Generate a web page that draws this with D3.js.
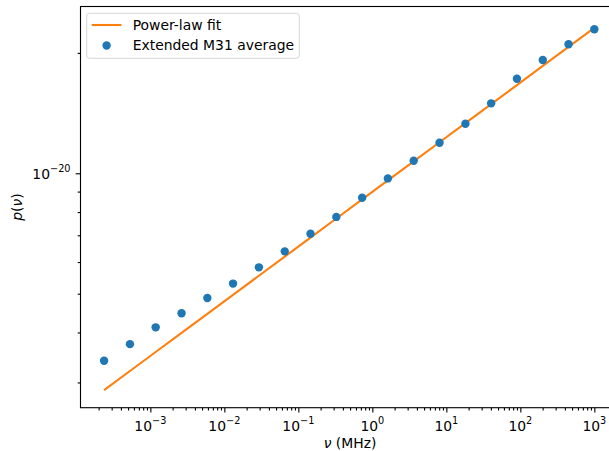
<!DOCTYPE html>
<html><head><meta charset="utf-8">
<script src="https://cdn.jsdelivr.net/npm/d3@7"></script>
<style>
body{margin:0;background:#fff}
svg{display:block;overflow:hidden}
text{font-family:"DejaVu Sans",sans-serif;fill:#000}
</style>
</head><body>
<svg id="chart" width="609" height="451"></svg>
<script>
// ---- data ----
const frequencies = [2.37e-4, 5.30e-4, 1.18e-3, 2.64e-3, 5.89e-3, 1.31e-2, 2.93e-2, 6.55e-2,
  0.146, 0.326, 0.728, 1.62, 3.62, 8.09, 18.1, 40.3, 89.9, 201, 448, 1000];
const m31Average = [3.40e-21, 3.74e-21, 4.12e-21, 4.47e-21, 4.88e-21, 5.30e-21, 5.82e-21, 6.38e-21,
  7.06e-21, 7.78e-21, 8.69e-21, 9.71e-21, 1.075e-20, 1.192e-20, 1.330e-20, 1.496e-20,
  1.723e-20, 1.920e-20, 2.102e-20, 2.291e-20];
const fitAmplitude = 8.985e-21;   // p(1 MHz)
const fitIndex = 0.1367;          // power-law slope
const xTickExponents = [-3, -2, -1, 0, 1, 2, 3];
const yTickExponents = [-20];
const seriesNames = ["Power-law fit", "Extended M31 average"];
const xAxisTitle = "(MHz)";

// ---- layout ----
const fs = 13.9;
const L = 80.5, R = 619.5, T = 6.5, B = 407.7;
const x = d3.scaleLog().domain([Math.pow(10, -3.944), Math.pow(10, 3.34)]).range([L, R]);
const y = d3.scaleLog().domain([Math.pow(10, -20.586), Math.pow(10, -19.583)]).range([B, T]);

const svg = d3.select("#chart");
const blue = "#1f77b4", orange = "#ff7f0e";

// fit line
const fitData = frequencies.map(f => [f, fitAmplitude * Math.pow(f, fitIndex)]);
svg.append("path")
  .datum(fitData)
  .attr("fill", "none").attr("stroke", orange).attr("stroke-width", 2.08)
  .attr("d", d3.line().x(d => x(d[0])).y(d => y(d[1])));

// points
svg.append("g").selectAll("circle")
  .data(frequencies.map((f, i) => [f, m31Average[i]]))
  .join("circle")
  .attr("cx", d => x(d[0])).attr("cy", d => y(d[1]))
  .attr("r", 4.2).attr("fill", blue);

// minor tick values
function minors(scale) {
  const [a, b] = scale.domain();
  const out = [];
  for (let e = Math.floor(Math.log10(a)) - 1; e <= Math.ceil(Math.log10(b)); e++) {
    for (let k = 2; k <= 9; k++) {
      const v = k * Math.pow(10, e);
      if (v >= a && v <= b) out.push(v);
    }
  }
  return out;
}

const tickW = 1.11;
// x axis
const gx = svg.append("g").attr("transform", `translate(0,${B})`);
gx.call(d3.axisBottom(x).tickValues(xTickExponents.map(e => Math.pow(10, e))).tickSize(4.86).tickFormat(""));
const gxm = svg.append("g").attr("transform", `translate(0,${B})`);
gxm.call(d3.axisBottom(x).tickValues(minors(x)).tickSize(2.78).tickFormat(""));
// y axis
const gy = svg.append("g").attr("transform", `translate(${L},0)`);
gy.call(d3.axisLeft(y).tickValues(yTickExponents.map(e => Math.pow(10, e))).tickSize(4.86).tickFormat(""));
const gym = svg.append("g").attr("transform", `translate(${L},0)`);
gym.call(d3.axisLeft(y).tickValues(minors(y)).tickSize(2.78).tickFormat(""));
[gx, gxm, gy, gym].forEach(g => {
  g.select(".domain").remove();
  g.selectAll("line").attr("stroke", "#000").attr("stroke-width", tickW);
});

// frame
svg.append("rect").attr("x", L).attr("y", T).attr("width", R - L).attr("height", B - T)
  .attr("fill", "none").attr("stroke", "#000").attr("stroke-width", tickW);

// x tick labels
const xl = svg.append("g").selectAll("text").data(xTickExponents).join("text")
  .attr("x", e => x(Math.pow(10, e))).attr("y", 430.5)
  .attr("text-anchor", "middle").style("font-size", fs + "px");
xl.append("tspan").text("10");
xl.append("tspan").attr("dy", -6.2).style("font-size", (fs * 0.7) + "px")
  .text(e => (e < 0 ? "\u2212" : "") + Math.abs(e));

// y tick labels
const yl = svg.append("g").selectAll("text").data(yTickExponents).join("text")
  .attr("x", 70.5).attr("y", e => y(Math.pow(10, e)) + 5.2)
  .attr("text-anchor", "end").style("font-size", fs + "px");
yl.append("tspan").text("10");
yl.append("tspan").attr("dy", -6.2).style("font-size", (fs * 0.7) + "px")
  .text(e => (e < 0 ? "\u2212" : "") + Math.abs(e));

// axis titles
const xt = svg.append("text").attr("x", (L + R) / 2).attr("y", 447.5)
  .attr("text-anchor", "middle").style("font-size", fs + "px");
xt.append("tspan").style("font-style", "italic").text("\u03bd");
xt.append("tspan").text(" " + xAxisTitle);

const yt = svg.append("text").attr("transform", `translate(21.5,${(T + B) / 2}) rotate(-90)`)
  .attr("text-anchor", "middle").style("font-size", fs + "px");
yt.append("tspan").style("font-style", "italic").text("p");
yt.append("tspan").text("(");
yt.append("tspan").style("font-style", "italic").text("\u03bd");
yt.append("tspan").text(")");

// legend
const lg = svg.append("g");
lg.append("rect").attr("x", 86.7).attr("y", 13.3).attr("width", 212.6).attr("height", 45)
  .attr("rx", 2.8).attr("fill", "#fff").attr("fill-opacity", 0.8)
  .attr("stroke", "#d6d6d6").attr("stroke-width", 1);
lg.append("line").attr("x1", 91.7).attr("x2", 121.5).attr("y1", 25).attr("y2", 25)
  .attr("stroke", orange).attr("stroke-width", 2.08);
lg.append("circle").attr("cx", 106.6).attr("cy", 45.5).attr("r", 4.2).attr("fill", blue);
lg.selectAll("text.lab").data(seriesNames).join("text").attr("class", "lab")
  .attr("x", 132.7).attr("y", (d, i) => 30 + i * 20.3)
  .style("font-size", fs + "px").text(d => d);
</script>
</body></html>
